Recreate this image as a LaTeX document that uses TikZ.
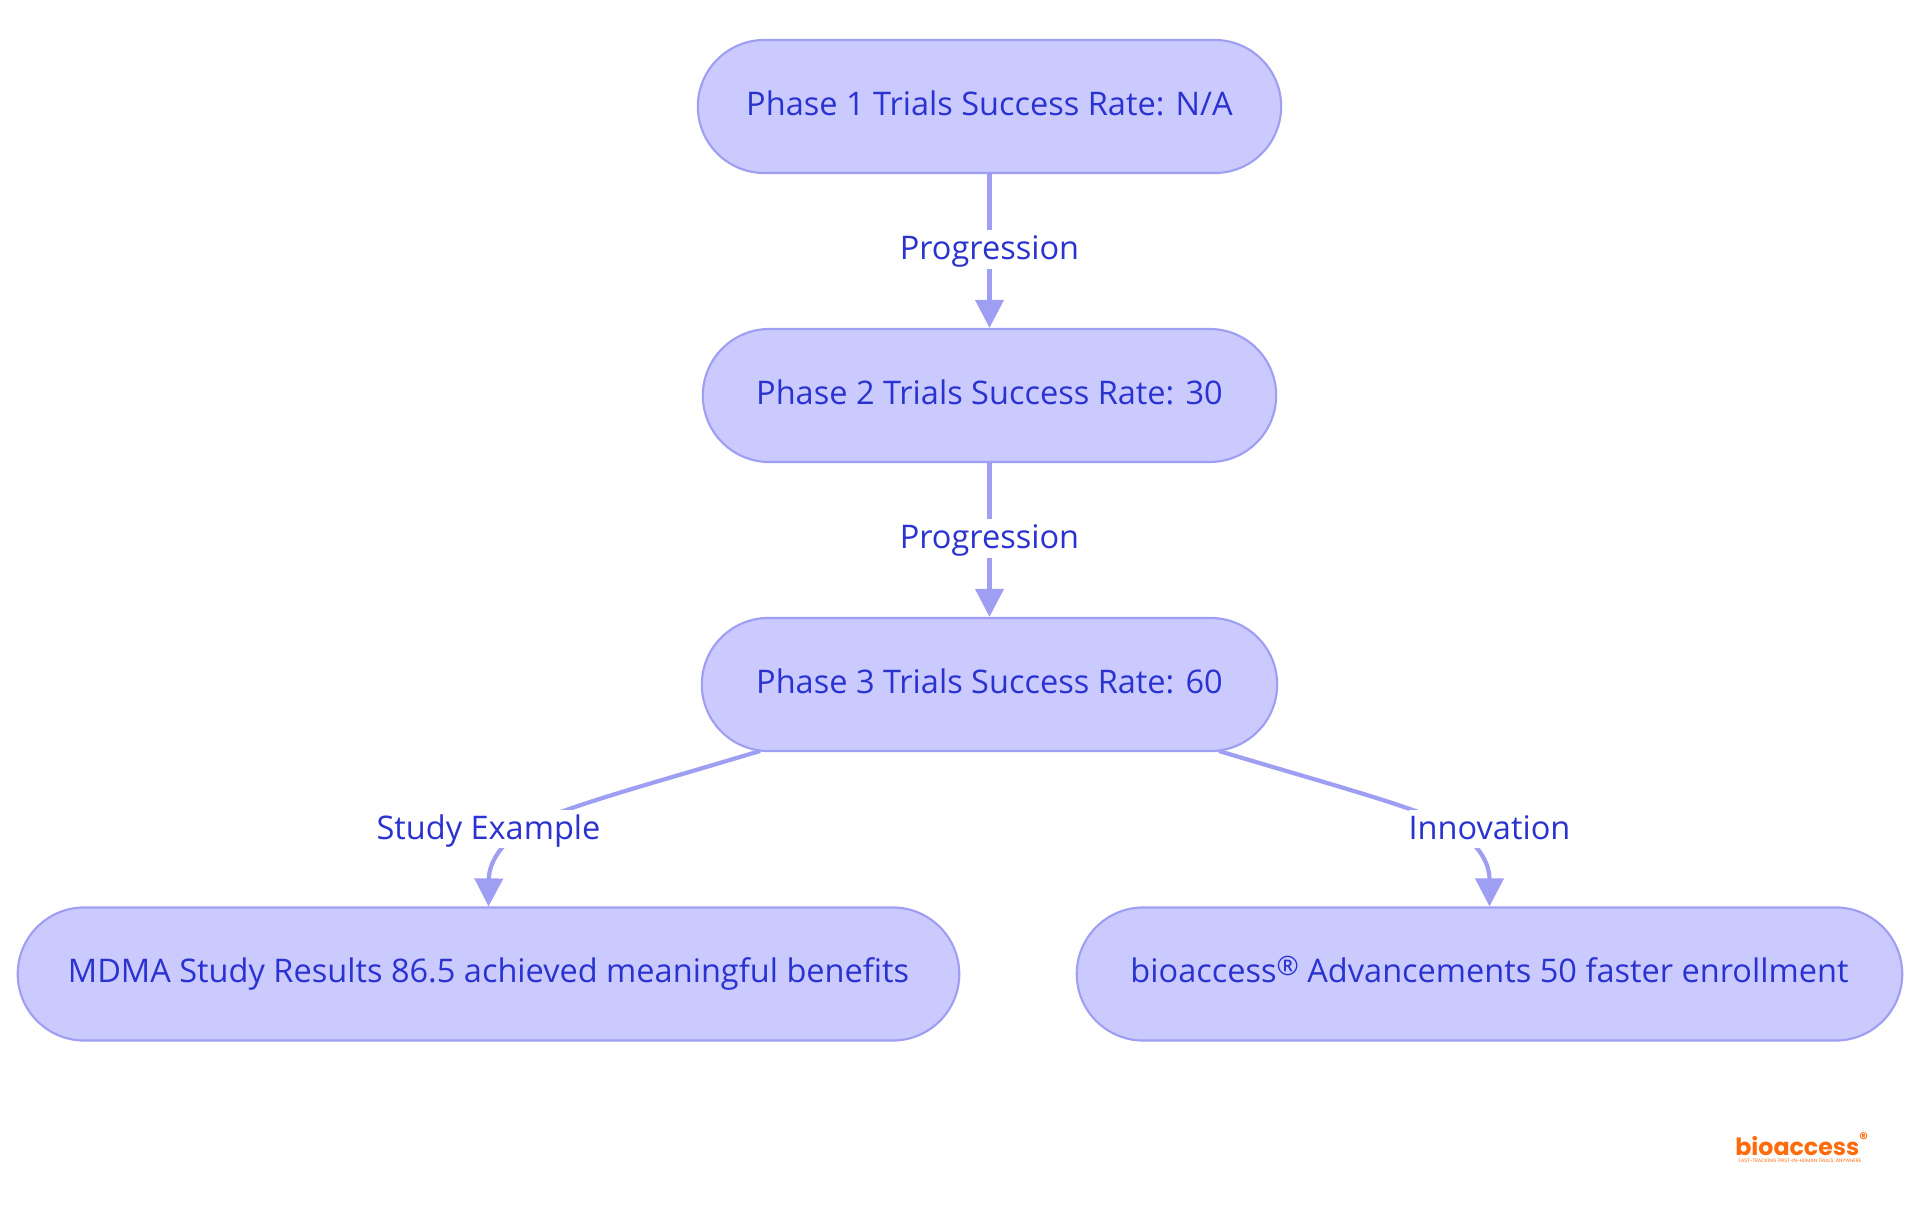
\documentclass[tikz,border=0pt]{standalone}
\usepackage{fontspec}
\setmainfont{Open Sans}
\newfontfamily\logofont{Poppins}
\usetikzlibrary{arrows.meta}
\definecolor{boxfill}{HTML}{CACAFF}
\definecolor{boxline}{HTML}{9E9EF3}
\definecolor{boxtext}{HTML}{2A32D0}
\definecolor{logoorange}{HTML}{FF6B0A}
\tikzset{
	phase/.style={rounded corners=.665cm,fill=boxfill,draw=boxline,line width=.6pt,minimum height=1.33cm,text=boxtext,font=\fontsize{9.25}{11}\selectfont,inner sep=0,text height=.24cm,text depth=.07cm},
	diredge/.style={-{Triangle[width=.28cm,length=.28cm]},draw=boxline,line width=.042cm},
	edgelabel/.style={fill=white,text=boxtext,font=\fontsize{9.25}{11}\selectfont,inner xsep=0,inner ysep=.04cm,text height=.25cm,text depth=.05cm}
}
\begin{document}
\begin{tikzpicture}[x=.01cm,y=-.01cm]
	\useasboundingbox (0,0) rectangle (1920,1215);
	%%% phases
	\node[phase,minimum width=5.83cm] (p1) at (989.5,106.5) {Phase 1 Trials Success Rate: N/A};
	\node[phase,minimum width=5.73cm] (p2) at (989.5,395.5) {Phase 2 Trials Success Rate: 30};
	\node[phase,minimum width=5.75cm] (p3) at (989.5,684.5) {Phase 3 Trials Success Rate: 60};
	\node[phase,minimum width=9.41cm] (mdma) at (488.5,974) {MDMA Study Results 86.5 achieved meaningful benefits};
	\node[phase,minimum width=8.25cm] (bio) at (1489.5,974) {bioaccess\raisebox{.07cm}{\fontsize{7.6}{8}\selectfont ®} Advancements 50 faster enrollment};
	
	%%% edges
	\coordinate (p3l) at (760,751);
	\coordinate (p3r) at (1219,751);
	\draw[diredge] (p1) -- (p2);
	\draw[diredge] (p2) -- (p3);
	\draw[diredge] (p3l) .. controls (650,784) and (590,800) .. (545,818) .. controls (505,835) and (489,860) .. (mdma.north);
	\draw[diredge] (p3r) .. controls (1329,784) and (1389,800) .. (1434,818) .. controls (1474,835) and (1489.5,860) .. (bio.north);
	
	%%% labels
	\node[edgelabel] (l1) at (989.5,249.5) {Progression};
	\node[edgelabel] (l2) at (989.5,538.5) {Progression};
	\node[edgelabel] (l3) at (488.5,829) {Study Example};
	\node[edgelabel] (l4) at (1489.5,829) {Innovation};
	
	%%% logo
	\node[text=logoorange,font=\logofont\bfseries\fontsize{6.75}{8}\selectfont,inner sep=0] (logo) at (1802.5,1144) {bioaccess\textsuperscript{®}};
	\node[text=logoorange,font=\logofont\fontsize{1.38}{2}\selectfont,inner sep=0] (tag) at (1800,1161) {FAST-TRACKING FIRST-IN-HUMAN TRIALS, ANYWHERE};
\end{tikzpicture}
\end{document}
